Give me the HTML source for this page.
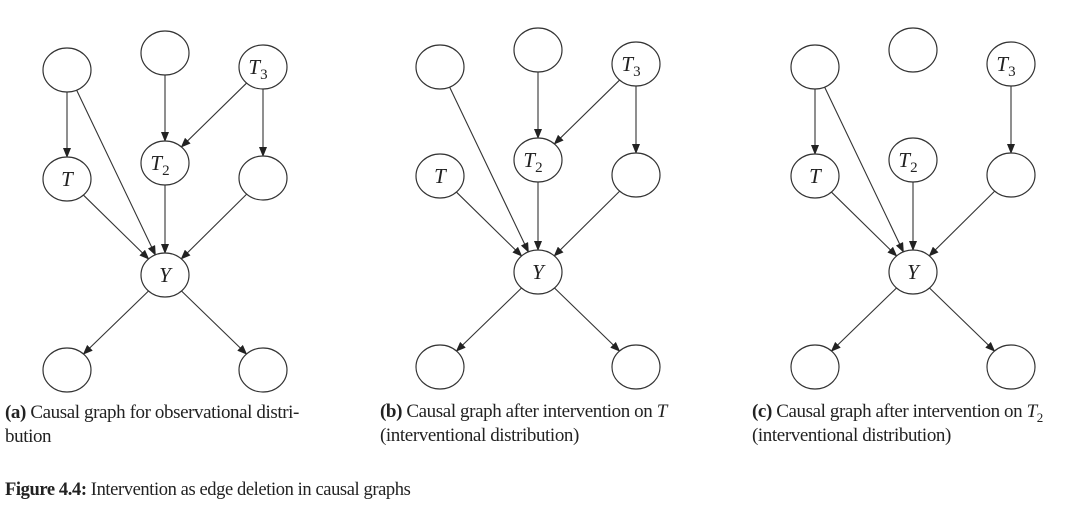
<!DOCTYPE html>
<html><head><meta charset="utf-8"><style>
body{margin:0;background:#fff;width:1080px;height:524px;overflow:hidden;font-family:"Liberation Serif",serif;color:#222}
svg{position:absolute;left:0;top:0}
.cap{position:absolute;font-size:19px;line-height:24px;letter-spacing:-0.4px;white-space:nowrap}
.sb{font-size:13px;position:relative;top:5px;line-height:0}
</style></head><body>
<svg id="s" width="1080" height="524" xmlns="http://www.w3.org/2000/svg">
<defs><marker id="a" markerWidth="10" markerHeight="8" refX="9" refY="4" orient="auto" markerUnits="userSpaceOnUse"><path d="M0,0L10,4L0,8z" fill="#222"/></marker></defs>
<g id="g"></g>
</svg>
<div class="cap" style="left:5px;top:401px"><b>(a)</b> Causal graph for observational distri-<br>bution</div>
<div class="cap" style="left:380px;top:400px"><b>(b)</b> Causal graph after intervention on <i>T</i><br>(interventional distribution)</div>
<div class="cap" style="left:752px;top:400px"><b>(c)</b> Causal graph after intervention on <i>T</i><span class="sb">2</span><br>(interventional distribution)</div>
<div class="cap" style="left:5px;top:478px;font-size:18.5px"><b>Figure 4.4:</b> Intervention as edge deletion in causal graphs</div>
<script>
var g=document.getElementById('g'),h='';
var base={TL:[67,70],TM:[165,53],T3:[263,67],T:[67,179],T2:[165,163],R:[263,178],Y:[165,275],BL:[67,370],BR:[263,370]};
var lab={T3:['T','3'],T:['T',''],T2:['T','2'],Y:['Y','']};
var all=[['TL','T'],['TL','Y'],['TM','T2'],['T3','T2'],['T3','R'],['T','Y'],['T2','Y'],['R','Y'],['Y','BL'],['Y','BR']];
var panels=[[0,0,[]],[373,-3,['TL-T']],[748,-3,['TM-T2','T3-T2']]];
var rx=24,ry=22;
function bd(dx,dy){return 1/Math.sqrt(dx*dx/(rx*rx)+dy*dy/(ry*ry));}
panels.forEach(function(p){
 var P={};for(var k in base)P[k]=[base[k][0]+p[0],base[k][1]+p[1]];
 all.forEach(function(e){if(p[2].indexOf(e[0]+'-'+e[1])>=0)return;
  var a=P[e[0]],b=P[e[1]],dx=b[0]-a[0],dy=b[1]-a[1],t=bd(dx,dy);
  h+='<line x1="'+(a[0]+dx*t)+'" y1="'+(a[1]+dy*t)+'" x2="'+(b[0]-dx*t)+'" y2="'+(b[1]-dy*t)+'" stroke="#333" stroke-width="1.1" marker-end="url(#a)"/>';});
 for(var k in P){var c=P[k];h+='<ellipse cx="'+c[0]+'" cy="'+c[1]+'" rx="'+rx+'" ry="'+ry+'" fill="#fff" stroke="#333" stroke-width="1.2"/>';
  if(lab[k]){var l=lab[k];h+='<text x="'+(c[0]-(l[1]?5:0))+'" y="'+(c[1]+7)+'" font-family="Liberation Serif,serif" font-style="italic" font-size="21" text-anchor="middle" fill="#222">'+l[0]+(l[1]?'<tspan font-style="normal" font-size="15" dy="5">'+l[1]+'</tspan>':'')+'</text>';}}
});
g.innerHTML=h;
</script>
</body></html>
